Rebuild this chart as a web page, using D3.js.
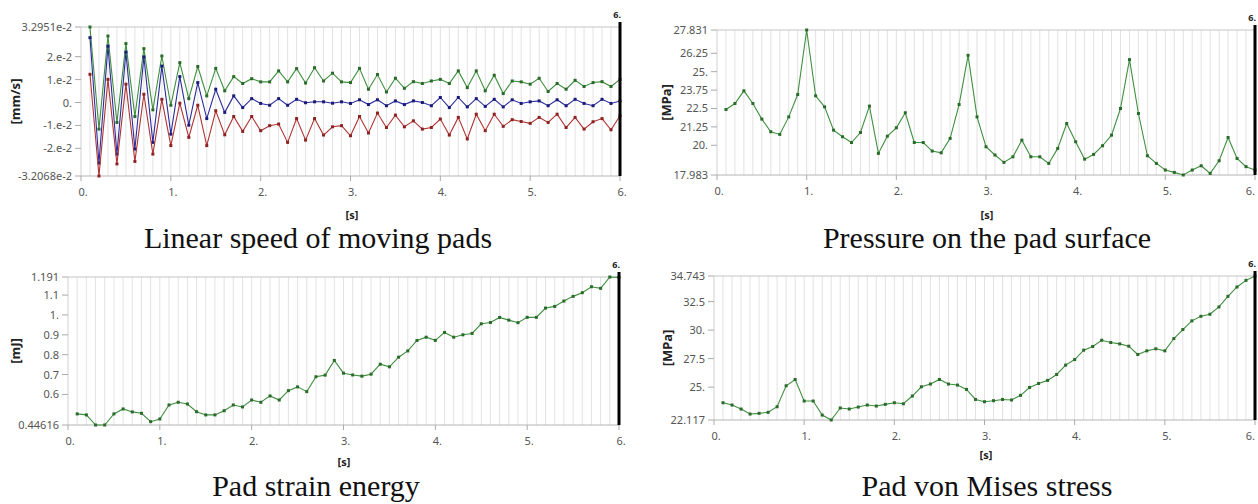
<!DOCTYPE html>
<html>
<head>
<meta charset="utf-8">
<script src="https://cdn.jsdelivr.net/npm/d3@7"></script>
<style>
    body { margin: 0; background: #fff; }
    svg { display: block; }
    .tick-label { font-family: "Noto Sans", "Open Sans", sans-serif; font-size: 11px; fill: #555; }
    .unit { font-family: "Noto Sans", "Open Sans", sans-serif; font-weight: bold; fill: #222; }
    .caption { font-family: "Liberation Serif", serif; font-size: 30px; fill: #111; }
</style>
</head>
<body>
<div id="chart"></div>
<script>
// time steps [s]
var times = [0.1, 0.2, 0.3, 0.4, 0.5, 0.6, 0.7, 0.8, 0.9, 1.0,
             1.1, 1.2, 1.3, 1.4, 1.5, 1.6, 1.7, 1.8, 1.9, 2.0,
             2.1, 2.2, 2.3, 2.4, 2.5, 2.6, 2.7, 2.8, 2.9, 3.0,
             3.1, 3.2, 3.3, 3.4, 3.5, 3.6, 3.7, 3.8, 3.9, 4.0,
             4.1, 4.2, 4.3, 4.4, 4.5, 4.6, 4.7, 4.8, 4.9, 5.0,
             5.1, 5.2, 5.3, 5.4, 5.5, 5.6, 5.7, 5.8, 5.9, 6.0];

var xTicks = [0, 1, 2, 3, 4, 5, 6];
var xTickLabels = ["0.", "1.", "2.", "3.", "4.", "5.", "6."];

// linear speed of moving pads [mm/s]
var speedGreen = [0.032951, -0.0116, 0.029, -0.0087, 0.0257, -0.0061, 0.0235, -0.0032, 0.0203, -0.0012,
                  0.0174, 0.0017, 0.0157, 0.0029, 0.0149, 0.0051, 0.0113, 0.0083, 0.0104, 0.009,
                  0.009, 0.0138, 0.009, 0.0148, 0.0085, 0.0152, 0.0094, 0.0128, 0.009, 0.0087,
                  0.0149, 0.0058, 0.0122, 0.0046, 0.0106, 0.0062, 0.0091, 0.0083, 0.0094, 0.0101,
                  0.0083, 0.0138, 0.0065, 0.0138, 0.0051, 0.0119, 0.0039, 0.0094, 0.009, 0.008,
                  0.0106, 0.0048, 0.0083, 0.0058, 0.0097, 0.007, 0.0087, 0.0091, 0.007, 0.0101];
var speedBlue = [0.0283, -0.0264, 0.0246, -0.0225, 0.022, -0.0203, 0.0199, -0.0174, 0.0159, -0.0138,
                 0.0113, -0.0099, 0.0087, -0.007, 0.0058, -0.0043, 0.0029, -0.0022, 0.0017, -0.0004,
                 -0.0012, 0.0017, -0.0012, 0.0014, -0.0001, 0.0003, 0.0003, -0.0003, 0.0003, -0.0004,
                 0.0012, -0.0009, 0.0012, -0.0014, 0.0007, -0.0009, 0.0007, 0.0, -0.0014, 0.0022,
                 -0.0022, 0.0022, -0.0019, 0.0017, -0.0017, 0.0014, -0.0019, 0.0012, -0.0004, 0.0003,
                 0.0007, -0.0014, 0.0012, -0.0014, 0.0014, -0.0004, -0.0014, 0.0014, -0.0004, 0.0007];
var speedRed = [0.0123, -0.032068, 0.0101, -0.0268, 0.008, -0.0257, 0.0036, -0.0225, 0.0014, -0.0188,
                -0.0003, -0.0152, -0.0012, -0.0188, -0.0036, -0.0141, -0.0061, -0.0126, -0.0061, -0.0123,
                -0.0101, -0.0094, -0.0174, -0.007, -0.0164, -0.007, -0.0142, -0.0106, -0.0101, -0.0145,
                -0.0061, -0.0133, -0.0046, -0.0109, -0.0055, -0.0106, -0.008, -0.0116, -0.0109, -0.0072,
                -0.0142, -0.0065, -0.0159, -0.0051, -0.0123, -0.0051, -0.0104, -0.0075, -0.0083, -0.0091,
                -0.0065, -0.0087, -0.0051, -0.0109, -0.0065, -0.0116, -0.0084, -0.007, -0.0119, -0.0058];
var speedTicks = [-0.032068, -0.02, -0.01, 0, 0.01, 0.02, 0.032951];
var speedTickLabels = ["-3.2068e-2", "-2.e-2", "-1.e-2", "0.", "1.e-2", "2.e-2", "3.2951e-2"];

// pressure on the pad surface [MPa]
var pressure = [22.43, 22.84, 23.70, 22.84, 21.78, 20.92, 20.74, 21.93, 23.45, 27.831,
                23.36, 22.61, 21.03, 20.58, 20.19, 20.87, 22.66, 19.45, 20.62, 21.19,
                22.21, 20.19, 20.19, 19.61, 19.49, 20.47, 22.77, 26.11, 21.93, 19.90,
                19.34, 18.84, 19.22, 20.35, 19.22, 19.22, 18.77, 19.79, 21.48, 20.24,
                19.06, 19.38, 19.97, 20.69, 22.50, 25.82, 22.16, 19.29, 18.77, 18.32,
                18.16, 17.983, 18.32, 18.61, 18.09, 18.95, 20.53, 19.11, 18.55, 18.32];
var pressureTicks = [17.983, 20, 21.25, 22.5, 23.75, 25, 26.25, 27.831];
var pressureTickLabels = ["17.983", "20.", "21.25", "22.5", "23.75", "25.", "26.25", "27.831"];

// pad strain energy [mJ]
var energy = [0.502, 0.497, 0.44616, 0.44616, 0.502, 0.527, 0.512, 0.505, 0.463, 0.4765,
              0.547, 0.5605, 0.552, 0.513, 0.497, 0.497, 0.518, 0.547, 0.537, 0.572,
              0.5605, 0.5925, 0.572, 0.619, 0.638, 0.614, 0.689, 0.697, 0.771, 0.707,
              0.698, 0.692, 0.702, 0.752, 0.739, 0.7875, 0.819, 0.8716, 0.888, 0.872,
              0.912, 0.888, 0.900, 0.907, 0.9556, 0.962, 0.9876, 0.974, 0.961, 0.988,
              0.988, 1.0346, 1.043, 1.070, 1.0935, 1.112, 1.142, 1.134, 1.191, 1.189];
var energyTicks = [0.44616, 0.6, 0.7, 0.8, 0.9, 1.0, 1.1, 1.191];
var energyTickLabels = ["0.44616", "0.6", "0.7", "0.8", "0.9", "1.", "1.1", "1.191"];

// pad von Mises stress [MPa]
var stress = [23.63, 23.43, 23.08, 22.64, 22.70, 22.79, 23.28, 25.12, 25.67, 23.78,
              23.78, 22.55, 22.117, 23.17, 23.08, 23.25, 23.43, 23.34, 23.49, 23.63,
              23.54, 24.22, 25.03, 25.27, 25.67, 25.27, 25.18, 24.80, 23.92, 23.72,
              23.81, 23.92, 23.87, 24.28, 24.97, 25.32, 25.59, 26.11, 26.93, 27.42,
              28.24, 28.56, 29.11, 28.91, 28.79, 28.59, 27.86, 28.18, 28.36, 28.18,
              29.26, 30.05, 30.81, 31.21, 31.39, 32.03, 32.96, 33.78, 34.36, 34.743];
var stressTicks = [22.117, 25, 27.5, 30, 32.5, 34.743];
var stressTickLabels = ["22.117", "25.", "27.5", "30.", "32.5", "34.743"];

var colors = {
    green: { line: "#3f8f3f", mark: "#2a6a2a" },
    blue:  { line: "#2b2b9c", mark: "#1a1a7a" },
    red:   { line: "#b03434", mark: "#8c2222" }
};

var svg = d3.select("#chart")
    .append("svg")
    .attr("width", 1258)
    .attr("height", 504);

svg.append("rect")
    .attr("width", 1258)
    .attr("height", 504)
    .attr("fill", "#fff");

function drawPanel(p)
{
    var x = d3.scaleLinear().domain([0, 6]).range([p.left, p.right]);
    var y = d3.scaleLinear().domain([p.yTicks[0], p.yTicks[p.yTicks.length - 1]]).range([p.bottom, p.top]);

    var g = svg.append("g");

    //vertical grid at every time step
    g.selectAll("line.grid")
        .data(times.slice(0, times.length - 1))
        .enter()
        .append("line")
        .attr("class", "grid")
        .attr("x1", function(d) { return x(d); })
        .attr("x2", function(d) { return x(d); })
        .attr("y1", p.top)
        .attr("y2", p.bottom)
        .attr("stroke", "#e2e2e2")
        .attr("stroke-width", 1);

    //frame: top, left, bottom
    g.append("line")
        .attr("x1", x(0)).attr("x2", x(6))
        .attr("y1", p.top).attr("y2", p.top)
        .attr("stroke", "#c4c4c4");
    g.append("line")
        .attr("x1", x(0)).attr("x2", x(0))
        .attr("y1", p.top).attr("y2", p.bottom)
        .attr("stroke", "#d0d0d0");
    g.append("line")
        .attr("x1", x(0)).attr("x2", x(6))
        .attr("y1", p.bottom).attr("y2", p.bottom)
        .attr("stroke", "#b4b4b4");

    //y ticks
    g.selectAll("line.ytick")
        .data(p.yTicks)
        .enter()
        .append("line")
        .attr("x1", x(0) - 6).attr("x2", x(0))
        .attr("y1", function(d) { return y(d); })
        .attr("y2", function(d) { return y(d); })
        .attr("stroke", "#aaa");

    g.selectAll("text.ylab")
        .data(p.yTicks)
        .enter()
        .append("text")
        .attr("class", "tick-label")
        .attr("x", x(0) - 9)
        .attr("y", function(d) { return y(d) + 4; })
        .attr("text-anchor", "end")
        .text(function(d, i) { return p.yLabels[i]; });

    //x ticks
    g.selectAll("line.xtick")
        .data(xTicks)
        .enter()
        .append("line")
        .attr("x1", function(d) { return x(d); })
        .attr("x2", function(d) { return x(d); })
        .attr("y1", p.bottom).attr("y2", p.bottom + 5)
        .attr("stroke", "#aaa");

    //last label would fall off the page on the right panels, so pin it to the tick
    g.selectAll("text.xlab")
        .data(xTicks)
        .enter()
        .append("text")
        .attr("class", "tick-label")
        .attr("x", function(d) { return (x(d) > 1240) ? x(d) : x(d) + 2; })
        .attr("y", p.bottom + 20)
        .attr("text-anchor", function(d) { return (x(d) > 1240) ? "end" : "middle"; })
        .text(function(d, i) { return xTickLabels[i]; });

    //series
    var line = d3.line()
        .x(function(d) { return x(d[0]); })
        .y(function(d) { return y(d[1]); });

    p.series.forEach(function(s) {
        var pts = times.map(function(t, i) { return [t, s.values[i]]; });
        g.append("path")
            .datum(pts)
            .attr("d", line)
            .attr("fill", "none")
            .attr("stroke", s.color.line)
            .attr("stroke-width", 1.1);
        g.selectAll(null)
            .data(pts)
            .enter()
            .append("rect")
            .attr("x", function(d) { return x(d[0]) - 1.5; })
            .attr("y", function(d) { return y(d[1]) - 1.5; })
            .attr("width", 3)
            .attr("height", 3)
            .attr("fill", s.color.mark);
    });

    //current time marker
    g.append("rect")
        .attr("x", x(6) - 1.5)
        .attr("y", p.top - 5)
        .attr("width", 3)
        .attr("height", p.bottom - p.top + 5)
        .attr("fill", "#000");
    g.append("text")
        .attr("x", x(6) + 1)
        .attr("y", p.top - 9)
        .attr("text-anchor", "end")
        .attr("class", "unit")
        .attr("font-size", 9)
        .text("6.");

    //axis titles
    g.append("text")
        .attr("class", "unit")
        .attr("font-size", 13)
        .attr("text-anchor", "middle")
        .attr("transform", "translate(" + p.yTitleX + "," + ((p.top + p.bottom) / 2) + ") rotate(-90)")
        .text(p.yTitle);

    g.append("text")
        .attr("class", "unit")
        .attr("font-size", 11)
        .attr("text-anchor", "middle")
        .attr("x", p.sX)
        .attr("y", p.sY)
        .text("[s]");

    g.append("text")
        .attr("class", "caption")
        .attr("text-anchor", "middle")
        .attr("x", p.capX)
        .attr("y", p.capY)
        .text(p.caption);
}

drawPanel({
    left: 81, right: 620, top: 27, bottom: 176,
    yTicks: speedTicks, yLabels: speedTickLabels,
    yTitle: "[mm/s]", yTitleX: 20,
    sX: 352, sY: 219,
    caption: "Linear speed of moving pads", capX: 318, capY: 248,
    series: [
        { values: speedGreen, color: colors.green },
        { values: speedBlue, color: colors.blue },
        { values: speedRed, color: colors.red }
    ]
});

drawPanel({
    left: 717, right: 1255, top: 30, bottom: 175,
    yTicks: pressureTicks, yLabels: pressureTickLabels,
    yTitle: "[MPa]", yTitleX: 671,
    sX: 987, sY: 219,
    caption: "Pressure on the pad surface", capX: 987, capY: 248,
    series: [{ values: pressure, color: colors.green }]
});

drawPanel({
    left: 68, right: 619, top: 277, bottom: 425,
    yTicks: energyTicks, yLabels: energyTickLabels,
    yTitle: "[mJ]", yTitleX: 20,
    sX: 344, sY: 466,
    caption: "Pad strain energy", capX: 316, capY: 496,
    series: [{ values: energy, color: colors.green }]
});

drawPanel({
    left: 714, right: 1255, top: 276, bottom: 420,
    yTicks: stressTicks, yLabels: stressTickLabels,
    yTitle: "[MPa]", yTitleX: 672,
    sX: 986, sY: 459,
    caption: "Pad von Mises stress", capX: 987, capY: 496,
    series: [{ values: stress, color: colors.green }]
});
</script>
</body>
</html>
